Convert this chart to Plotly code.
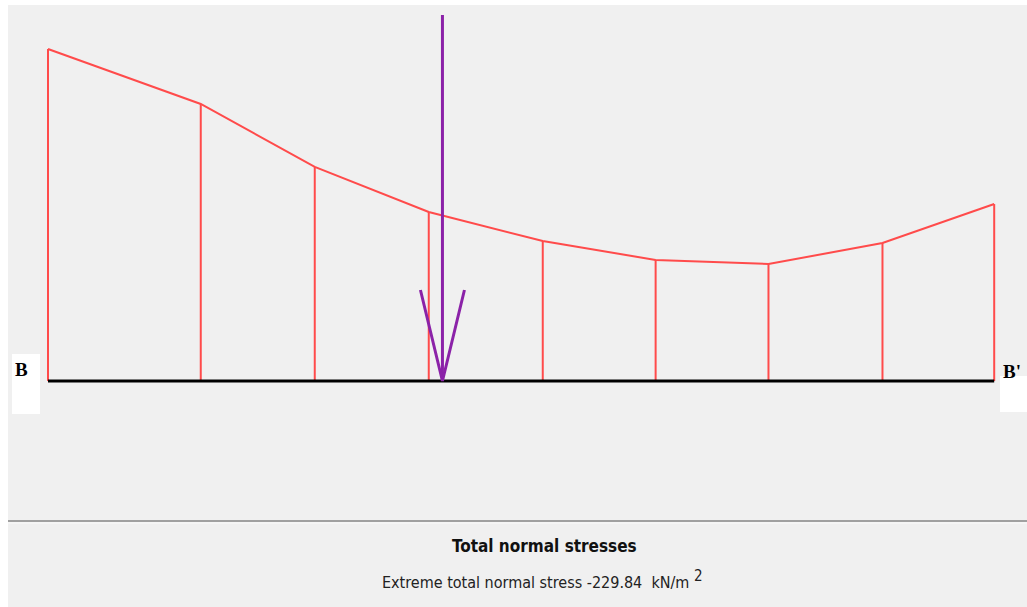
import plotly.graph_objects as go

# Stations along section B-B' (units of ~1 grid spacing) and total normal stress (kN/m2, compression negative)
stations = [0.0, 1.34, 2.34, 3.34, 4.34, 5.33, 6.32, 7.32, 8.30]
stress = [-229.84, -191.8, -148.2, -117.0, -96.9, -83.8, -81.0, -95.5, -122.5]
load_x = 3.46
load_top = -253.4
head_y = -63.0
head_dx = 0.193
title_text = "Total normal stresses"
sub_text = "Extreme total normal stress -229.84  kN/m <sup><span style='font-size:15px'>2</span></sup>"

W, H = 1027, 607
RED = "#FF4B4B"
PURPLE = "#8B22A8"

fig = go.Figure()

# stress profile outline
fig.add_trace(go.Scatter(x=stations, y=stress, mode="lines",
                         line=dict(color=RED, width=2), hoverinfo="skip"))
# vertical ordinates
vx, vy = [], []
for s, v in zip(stations, stress):
    vx += [s, s, None]
    vy += [0, v, None]
fig.add_trace(go.Scatter(x=vx, y=vy, mode="lines",
                         line=dict(color=RED, width=2), hoverinfo="skip"))
# baseline
fig.add_trace(go.Scatter(x=[stations[0], stations[-1]], y=[0, 0], mode="lines",
                         line=dict(color="black", width=3), hoverinfo="skip"))
# load arrow
fig.add_trace(go.Scatter(x=[load_x, load_x], y=[load_top, 0], mode="lines",
                         line=dict(color=PURPLE, width=3), hoverinfo="skip"))
fig.add_trace(go.Scatter(x=[load_x - head_dx, load_x, load_x + head_dx],
                         y=[head_y, 0, head_y], mode="lines",
                         line=dict(color=PURPLE, width=3), hoverinfo="skip"))

shapes = [
    dict(type="rect", xref="paper", yref="paper", x0=8 / W, x1=1, y0=0, y1=1 - 5 / H,
         fillcolor="#F0F0F0", line=dict(width=0), layer="below"),
    dict(type="rect", xref="paper", yref="paper", x0=12 / W, x1=40 / W,
         y0=1 - 414 / H, y1=1 - 354 / H, fillcolor="white", line=dict(width=0), layer="below"),
    dict(type="rect", xref="paper", yref="paper", x0=1000 / W, x1=1,
         y0=1 - 412 / H, y1=1 - 376 / H, fillcolor="white", line=dict(width=0), layer="below"),
    dict(type="line", xref="paper", yref="paper", x0=8 / W, x1=1,
         y0=1 - 521 / H, y1=1 - 521 / H, line=dict(color="#A0A0A0", width=2)),
    dict(type="line", xref="paper", yref="paper", x0=8 / W, x1=1,
         y0=1 - 523 / H, y1=1 - 523 / H, line=dict(color="#FAFAFA", width=1)),
]

annotations = [
    dict(x=21 / W, y=1 - 369 / H, xref="paper", yref="paper", text="<b>B</b>",
         xanchor="center", yanchor="middle",
         showarrow=False, font=dict(family="Liberation Serif", size=19, color="black")),
    dict(x=1012 / W, y=1 - 371 / H, xref="paper", yref="paper", text="<b>B'</b>",
         xanchor="center", yanchor="middle",
         showarrow=False, font=dict(family="Liberation Serif", size=19, color="black")),
    dict(x=544 / W, y=1 - 546 / H, xref="paper", yref="paper", text="<b>" + title_text + "</b>",
         xanchor="center", yanchor="middle",
         showarrow=False, font=dict(family="DejaVu Sans Condensed", size=17, color="#111111")),
    dict(x=542 / W, y=1 - 579 / H, xref="paper", yref="paper", text=sub_text,
         xanchor="center", yanchor="middle",
         showarrow=False, font=dict(family="DejaVu Sans Condensed", size=16, color="#222222")),
]

fig.update_layout(
    width=W, height=H,
    margin=dict(l=0, r=0, t=0, b=0),
    paper_bgcolor="white", plot_bgcolor="rgba(0,0,0,0)",
    showlegend=False,
    xaxis=dict(range=[-48 / 114, (W - 48) / 114], visible=False, fixedrange=True),
    yaxis=dict(range=[226 / 1.4444, -381 / 1.4444], visible=False, fixedrange=True),
    shapes=shapes, annotations=annotations,
)

fig.write_html("out.html", config={"displayModeBar": False},
               post_script="document.body.style.margin='0';document.body.style.overflow='hidden';")
